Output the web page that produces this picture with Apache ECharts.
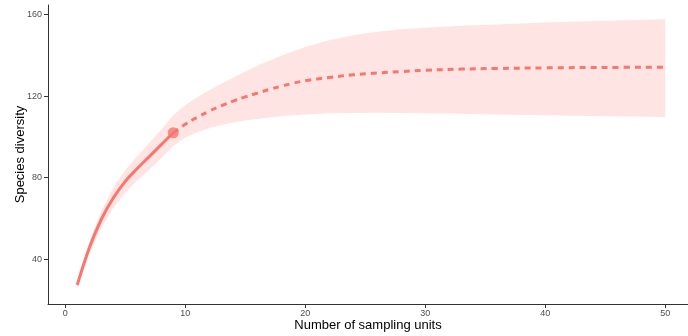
<!DOCTYPE html>
<html>
<head>
<meta charset="utf-8">
<script src="https://cdn.jsdelivr.net/npm/echarts@6/dist/echarts.min.js"></script>
<style>
  html, body { margin: 0; padding: 0; background: #ffffff; }
  #chart { width: 688px; height: 336px; }
</style>
</head>
<body>
<div id="chart"></div>
<script>
// Rarefied (observed) part of the accumulation curve
const observedUnits     = [1, 2, 3, 4, 5, 6, 7, 8, 9];
const observedDiversity = [27.4, 45.5, 59.5, 70.0, 78.2, 84.5, 90.3, 96.2, 102.0];
const observedUpper     = [29.0, 48.5, 63.5, 75.0, 83.8, 90.5, 97.0, 103.5, 110.6];
const observedLower     = [25.8, 42.5, 55.3, 65.0, 72.6, 78.6, 83.9, 89.6, 95.5];

// Extrapolated part, starting at the reference sample size
const extrapUnits     = [9, 10, 11, 12, 13, 14, 15, 16, 17, 18, 19, 20, 22, 24, 26, 28, 30, 33, 36, 40, 45, 50];
const extrapDiversity = [102.0, 106.2, 109.6, 112.6, 115.2, 117.5, 119.6, 121.4, 123.2, 124.8, 126.3, 127.5,
                         129.1, 130.4, 131.3, 132.0, 132.6, 133.2, 133.5, 133.8, 134.0, 134.1];
const extrapUpper     = [110.6, 115.5, 119.4, 122.8, 126.0, 129.0, 132.0, 134.8, 137.3, 139.7, 142.0, 144.0,
                         147.3, 149.8, 151.5, 152.7, 153.5, 154.4, 155.1, 156.0, 156.9, 157.6];
const extrapLower     = [95.5, 99.5, 102.2, 104.2, 105.8, 107.0, 108.0, 108.8, 109.5, 110.1, 110.6, 111.0,
                         111.5, 111.7, 111.8, 111.7, 111.6, 111.3, 111.0, 110.6, 110.1, 109.7];

// Reference sample (observed number of units and diversity)
const referenceUnits = 9;
const referenceDiversity = 102.0;

const xTicks = [0, 10, 20, 30, 40, 50];
const yTicks = [40, 80, 120, 160];

const curveColor = '#F8766D';

// Confidence band: observed rows followed by extrapolated rows (shared point dropped)
const bandUnits = observedUnits.concat(extrapUnits.slice(1));
const bandUpper = observedUpper.concat(extrapUpper.slice(1));
const bandLower = observedLower.concat(extrapLower.slice(1));
const bandRows = bandUnits.map((u, i) => [u, bandLower[i], bandUpper[i]]);

const chart = echarts.init(document.getElementById('chart'), null, { renderer: 'canvas' });

const axisFont = 'Liberation Sans, Arial, sans-serif';

chart.setOption({
  animation: false,
  backgroundColor: '#ffffff',
  grid: { left: 48, right: 0, top: 5, bottom: 32, outerBoundsMode: 'none' },
  xAxis: {
    type: 'value',
    min: -1.44,
    max: 51.9,
    splitLine: { show: false },
    axisLine: { show: true, onZero: false, lineStyle: { color: '#333333', width: 1 } },
    axisTick: { show: true, customValues: xTicks, length: 4, lineStyle: { color: '#333333' } },
    axisLabel: { customValues: xTicks, color: '#4D4D4D', fontSize: 9, margin: 5, fontFamily: axisFont },
    name: 'Number of sampling units',
    nameLocation: 'middle',
    nameGap: 15,
    nameMoveOverlap: false,
    nameTextStyle: { color: '#000000', fontSize: 13, fontFamily: axisFont }
  },
  yAxis: {
    type: 'value',
    min: 18.1,
    max: 164.6,
    splitLine: { show: false },
    axisLine: { show: true, onZero: false, lineStyle: { color: '#333333', width: 1 } },
    axisTick: { show: true, customValues: yTicks, length: 4, lineStyle: { color: '#333333' } },
    axisLabel: { customValues: yTicks, color: '#4D4D4D', fontSize: 9, margin: 6, fontFamily: axisFont },
    name: 'Species diversity',
    nameLocation: 'middle',
    nameGap: 21,
    nameRotate: 90,
    nameMoveOverlap: false,
    nameTextStyle: { color: '#000000', fontSize: 13, fontFamily: axisFont }
  },
  series: [
    {
      // shaded confidence band drawn as one polygon through the axis scales
      type: 'custom',
      coordinateSystem: 'cartesian2d',
      silent: true,
      z: 1,
      data: bandRows,
      encode: { x: 0, y: [1, 2] },
      renderItem: function (params, api) {
        if (params.dataIndex !== 0) return null;
        const pts = [];
        for (let i = 0; i < bandRows.length; i++) pts.push(api.coord([bandRows[i][0], bandRows[i][2]]));
        for (let i = bandRows.length - 1; i >= 0; i--) pts.push(api.coord([bandRows[i][0], bandRows[i][1]]));
        return {
          type: 'polygon',
          shape: { points: pts },
          style: { fill: 'rgba(248,118,109,0.2)', stroke: null }
        };
      }
    },
    {
      name: 'Rarefaction',
      type: 'line',
      z: 3,
      data: observedUnits.map((u, i) => [u, observedDiversity[i]]),
      showSymbol: false,
      smooth: 0.4,
      lineStyle: { color: curveColor, width: 3, cap: 'butt' }
    },
    {
      name: 'Extrapolation',
      type: 'line',
      z: 3,
      data: extrapUnits.map((u, i) => [u, extrapDiversity[i]]),
      showSymbol: false,
      smooth: 0.4,
      lineStyle: { color: curveColor, width: 3, type: [6, 5], cap: 'butt' }
    },
    {
      name: 'Reference sample',
      type: 'scatter',
      z: 4,
      data: [[referenceUnits, referenceDiversity]],
      symbol: 'circle',
      symbolSize: 11,
      itemStyle: { color: curveColor }
    }
  ]
});
</script>
</body>
</html>
